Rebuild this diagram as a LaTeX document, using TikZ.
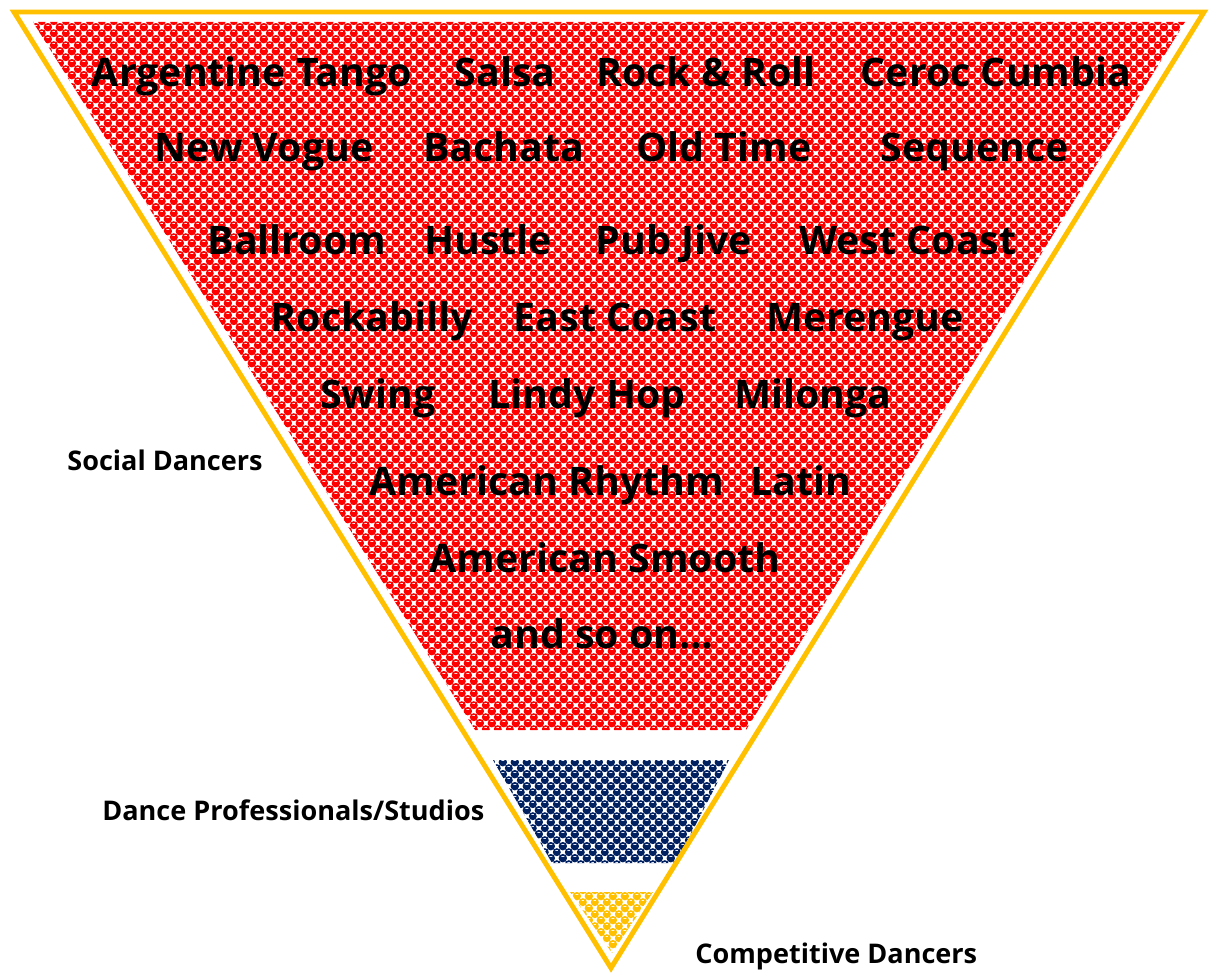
\documentclass[tikz,border=0pt]{standalone}
\usepackage{fontspec}
\setmainfont{Open Sans}
\usetikzlibrary{patterns}

\definecolor{tierred}{HTML}{FF0000}
\definecolor{tierblue}{HTML}{002060}
\definecolor{tiergold}{HTML}{FFC000}

% sphere-like dotted fill (blobs with a small highlight)
\newcommand\blobat[2]{%
  \pgfpathcircle{\pgfpoint{#1}{#2}}{2.4pt}%
  \pgfpathrectangle{\pgfpoint{#1-0.8pt}{#2+0.7pt}}{\pgfpoint{1.6pt}{0.6pt}}%
}
\pgfdeclarepatternformonly{spheres}{\pgfqpoint{0pt}{0pt}}{\pgfqpoint{7pt}{7pt}}{\pgfqpoint{7pt}{7pt}}{%
  \pgfseteorule
  \blobat{3.5pt}{3.5pt}%
  \blobat{0pt}{0pt}%
  \blobat{7pt}{0pt}%
  \blobat{0pt}{7pt}%
  \blobat{7pt}{7pt}%
  \pgfusepath{fill}%
}

\begin{document}
\begin{tikzpicture}[
    x=0.02cm, y=-0.02cm,
    frame/.style={draw=tiergold, line width=2.83pt, line join=miter},
    tier/.style={pattern=spheres, pattern color=#1},
    dance/.style={anchor=base, inner sep=0pt, font=\fontsize{22.4}{26}\selectfont\bfseries},
    side/.style={anchor=base west, inner sep=0pt, font=\fontsize{15.4}{18}\selectfont\bfseries}
]
\useasboundingbox (0,0) rectangle (1215,980);

% ============================================================
% tiers (filled bands inside the funnel)
% ============================================================
\path[tier=tierred]  (33,22) -- (1185,22) -- (746,730) -- (475,730) -- cycle;
\path[tier=tierblue] (493,760) -- (729,760) -- (676,863) -- (552,863) -- cycle;
\path[tier=tiergold] (570,892) -- (653,892) -- (612,953) -- cycle;

% outer funnel
\draw[frame] (14,12) -- (1204,12) -- (611,968) -- cycle;

% ============================================================
% dance names
% ============================================================
\foreach \x/\w [count=\n] in {252/Argentine Tango, 505/Salsa, 706/Rock \& Roll, 996/Ceroc Cumbia} {
    \node[dance] (ra\n) at (\x, 87) {\w};
}
\foreach \x/\w [count=\n] in {264/New Vogue, 504/Bachata, 724/Old Time, 975/Sequence} {
    \node[dance] (rb\n) at (\x, 162) {\w};
}
\foreach \x/\w [count=\n] in {297/Ballroom, 488/Hustle, 674/Pub Jive, 908/West Coast} {
    \node[dance] (rc\n) at (\x, 255) {\w};
}
\foreach \x/\w [count=\n] in {372/Rockabilly, 615/East Coast, 865/Merengue} {
    \node[dance] (rd\n) at (\x, 331) {\w};
}
\foreach \x/\w [count=\n] in {378/Swing, 587/Lindy Hop, 813/Milonga} {
    \node[dance] (re\n) at (\x, 408) {\w};
}
\node[dance] (rf1) at (547, 495) {American Rhythm};
\node[dance] (rf2) at (801, 495) {Latin};
\node[dance] (rg1) at (605, 572) {American Smooth};
\node[dance] (rh1) at (602, 648) {and so on…};

% ============================================================
% tier labels
% ============================================================
\node[side] (social) at (67, 470) {Social Dancers};
\node[side] (pros)   at (102, 820) {Dance Professionals/Studios};
\node[side] (comp)   at (695, 963) {Competitive Dancers};

\end{tikzpicture}
\end{document}
